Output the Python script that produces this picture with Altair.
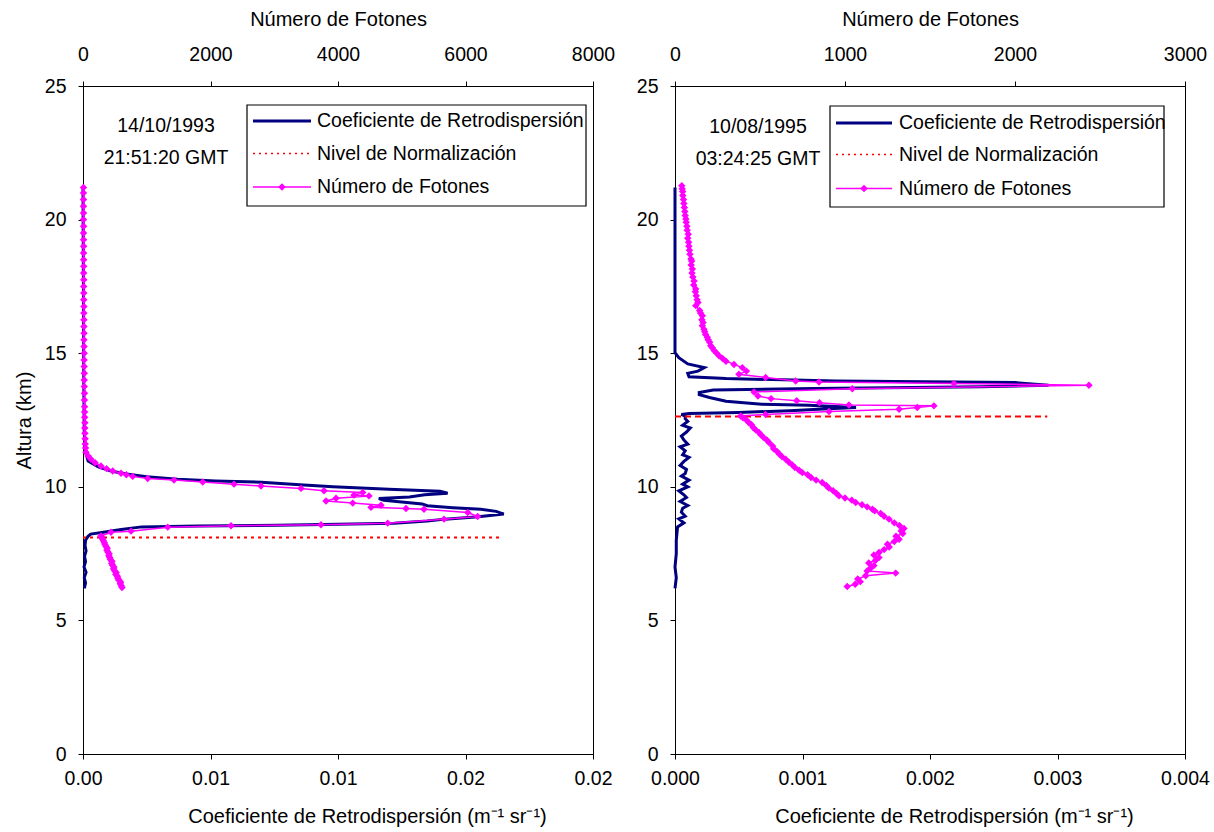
import altair as alt
import pandas as pd

FONT = "Liberation Sans"
NAVY = "#000080"
RED = "#FF0000"
MAG = "#FF00FF"

# ---------------- Panel 1: 14/10/1993 ----------------
L_BS_ALT = [6.2, 6.4, 6.6, 6.8, 7.0, 7.2, 7.4, 7.6, 7.8, 8.0, 8.15, 8.23,
            8.30, 8.40, 8.50, 8.53, 8.56, 8.60, 8.64, 8.72, 8.79, 8.88, 8.98,
            9.08, 9.16, 9.22, 9.29, 9.36, 9.43, 9.50, 9.56, 9.62, 9.70, 9.76,
            9.83, 9.91, 10.0, 10.08, 10.17, 10.22, 10.28, 10.38, 10.48, 10.59,
            10.75, 10.97, 11.3, 12.0, 14.0, 17.0, 21.2]
L_BS_VAL = [0.00005, 0.0001, 0.00005, 0.00012, 0.00004, 0.0001, 0.00006, 0.00012,
            0.00008, 0.0001, 0.0002, 0.0003,
            0.0008, 0.0015, 0.0023, 0.0045, 0.0076, 0.0100, 0.0122, 0.0135, 0.0142,
            0.0155, 0.0165, 0.0162, 0.0156, 0.0145, 0.0135, 0.0133, 0.0125, 0.0118,
            0.0116, 0.0128, 0.0134, 0.0143, 0.0140, 0.0120, 0.0098, 0.0085, 0.0070,
            0.0052, 0.0037, 0.0025, 0.0017, 0.0011, 0.0006, 0.0002, 0.0001, 0.00005,
            0.00003, 0.00002, 0.0]

L_PH_ALT = [6.23, 6.30, 6.37, 6.44, 6.51, 6.58, 6.65, 6.72, 6.79, 6.86, 6.93, 7.00,
            7.07, 7.14, 7.21, 7.28, 7.35, 7.42, 7.49, 7.56, 7.63, 7.70, 7.77, 7.84,
            7.91, 7.98, 8.05, 8.12, 8.16,
            8.30, 8.34, 8.49, 8.54, 8.58, 8.64, 8.79, 8.89, 9.04, 9.16, 9.19, 9.23,
            9.31, 9.39, 9.47, 9.57, 9.66, 9.69, 9.79, 9.85, 9.94, 10.03, 10.10, 10.18,
            10.25, 10.31, 10.39, 10.45, 10.51, 10.59, 10.68, 10.78, 10.90, 11.03,
            11.15, 11.29,
            11.45, 11.6, 11.8, 12.0, 12.2, 12.4, 12.6, 12.8, 13.0, 13.25, 13.5, 13.75,
            14.0, 14.25, 14.5, 14.75, 15.0, 15.25, 15.5, 15.75, 16.0, 16.25, 16.5,
            16.75, 17.0, 17.25, 17.5, 17.75, 18.0, 18.25, 18.5, 18.75, 19.0, 19.25,
            19.5, 19.75, 20.0, 20.25, 20.5, 20.75, 21.0, 21.2]
L_PH_VAL = [612, 600, 585, 590, 560, 548, 540, 515, 520, 495, 480, 485,
            460, 450, 455, 430, 420, 405, 410, 390, 375, 380, 360, 345,
            335, 320, 305, 290, 282,
            439, 753, 1329, 2322, 3733, 4780, 5663, 6191, 6035, 5349, 5067, 4518,
            4675, 4231, 3812, 3969, 4486, 4251, 4388, 3780, 3420, 2792, 2369, 1878,
            1427, 1015, 780, 680, 596, 466, 370, 282, 190, 125,
            80, 47,
            40, 35, 33, 30, 28, 30, 26, 25, 24, 22, 23, 20,
            19, 20, 18, 17, 18, 16, 15, 16, 14, 14, 13,
            14, 12, 12, 11, 12, 10, 11, 10, 9, 10, 9,
            8, 9, 8, 8, 7, 8, 7, 7]

L_NORM_ALT = 8.1
L_NORM_MAX = 0.0164

# ---------------- Panel 2: 10/08/1995 ----------------
R_BS_ALT = [6.2, 6.6, 7.0, 7.5, 8.0, 8.5, 8.65, 8.8, 8.9, 9.05, 9.2, 9.3, 9.45, 9.6,
            9.7, 9.85, 10.0, 10.1, 10.25, 10.4, 10.5, 10.65, 10.8, 10.95, 11.1,
            11.2, 11.35, 11.5, 11.6, 11.75, 11.9, 12.05, 12.2, 12.3, 12.45, 12.55,
            12.65, 12.71, 12.74, 12.78, 12.85, 12.92, 12.97, 13.05, 13.09, 13.2,
            13.34, 13.45, 13.53, 13.62, 13.68, 13.74, 13.80, 13.90, 13.96, 14.05,
            14.12, 14.25, 14.33, 14.46, 14.6, 14.83, 15.02, 17.0, 21.2]
R_BS_VAL = [0.0, 0.00001, 0.0, 0.00001, 0.00001, 0.00002, 0.00007, 0.00003, 0.00008,
            0.00005, 0.00006, 0.0001, 0.00004, 0.00009, 0.00007, 0.00003, 0.0001,
            0.00006, 0.00011, 0.00005, 0.00008, 0.00009, 0.00004, 0.00007, 0.00011,
            0.00006, 0.00008, 0.00004, 0.0001, 0.00007, 0.00005, 0.00009, 0.00012,
            0.00006, 0.0001, 0.00008,
            0.00008, 0.00005, 0.00011, 0.0005, 0.0009, 0.0012, 0.00142,
            0.00105, 0.00068, 0.0004, 0.00027, 0.00019, 0.00019, 0.0003, 0.0011,
            0.0024, 0.00293, 0.00267, 0.00126, 0.0004, 0.00011, 0.0001, 0.00018,
            0.00023, 0.0001, 0.00003, 0.0, 0.0, 0.0]

R_PH_ALT = [6.27, 6.35, 6.45, 6.55, 6.67, 6.77, 6.85, 6.95, 7.05, 7.15, 7.25, 7.35,
            7.45, 7.54, 7.65, 7.75, 7.85, 7.95, 8.04, 8.15, 8.25, 8.35, 8.44, 8.55,
            8.65, 8.79, 8.9, 9.0, 9.1, 9.16, 9.25, 9.33, 9.41, 9.5, 9.58, 9.66, 9.75,
            9.85, 9.95, 10.05, 10.16, 10.25, 10.35, 10.45, 10.53, 10.62, 10.72, 10.82,
            10.92, 11.03, 11.12, 11.22, 11.32, 11.42, 11.52, 11.66, 11.75, 11.85,
            11.95, 12.03, 12.13, 12.22, 12.32, 12.4, 12.5, 12.58, 12.65,
            12.71, 12.82, 12.9, 12.97, 13.03, 13.06, 13.15, 13.22, 13.3, 13.4, 13.55,
            13.67, 13.80, 13.87, 13.92, 13.96, 14.09, 14.21, 14.33, 14.46, 14.58,
            14.7, 14.8, 14.9, 15.0, 15.1, 15.2, 15.28, 15.41, 15.5, 15.6, 15.7, 15.8,
            15.9, 16.03, 16.15, 16.25, 16.4, 16.5, 16.6, 16.78, 16.9, 17.0, 17.15,
            17.3, 17.4, 17.55, 17.7, 17.85, 18.0, 18.15, 18.3, 18.45, 18.53, 18.7,
            18.85, 19.0, 19.15, 19.3, 19.45, 19.6, 19.75, 19.9, 20.02, 20.15, 20.3,
            20.45, 20.6, 20.75, 20.9, 21.05, 21.15, 21.27]
R_PH_VAL = [1013, 1060, 1090, 1075, 1122, 1298, 1130, 1150, 1170, 1140, 1180, 1200,
            1170, 1200, 1230, 1260, 1250, 1290, 1318, 1300, 1340, 1330, 1347, 1320,
            1290, 1259, 1230, 1210, 1175, 1161, 1130, 1100, 1063, 1040, 1000, 965, 950,
            930, 905, 890, 866, 830, 800, 780, 749, 730, 705, 690,
            670, 651, 630, 615, 600, 580, 575, 553, 540, 520,
            505, 494, 475, 460, 450, 435, 420, 400, 386,
            533, 906, 1318, 1425, 1523, 1023, 850, 716, 565, 488, 465,
            1043, 2435, 1641, 847, 710, 533, 376, 420, 396, 347,
            300, 280, 259, 245, 230, 220, 210, 204, 195, 190, 180, 175,
            170, 161, 165, 158, 161, 150, 145, 122, 135, 130, 125,
            120, 122, 110, 112, 105, 100, 102, 95, 98, 94, 88,
            85, 82, 80, 75, 78, 72, 70, 66, 64, 60, 58,
            55, 52, 50, 46, 45, 42, 40]

R_NORM_ALT = 12.63
R_NORM_MAX = 0.00292

# ---------------- Axes / text ----------------
Y_TICKS = [0, 5, 10, 15, 20, 25]
L_X_TICKS = [0, 0.005, 0.01, 0.015, 0.02]
L_X_LABELS = ["0.00", "0.01", "0.01", "0.02", "0.02"]
R_X_TICKS = [0, 0.001, 0.002, 0.003, 0.004]
R_X_LABELS = ["0.000", "0.001", "0.002", "0.003", "0.004"]
L_P_TICKS = [0, 2000, 4000, 6000, 8000]
R_P_TICKS = [0, 1000, 2000, 3000]

LEG_LABELS = ["Coeficiente de Retrodispersión", "Nivel de Normalización", "Número de Fotones"]
LEG_COLORS = [NAVY, RED, MAG]
LEG_WIDTHS = [3, 1.5, 1.5]
LEG_DASH = [[1, 0], [2, 4], [1, 0]]

X_TITLE = "Coeficiente de Retrodispersión (m⁻¹ sr⁻¹)"
P_TITLE = "Número de Fotones"
Y_TITLE = "Altura (km)"

W, H = 510, 668
LABEL_FS = 19.5
TITLE_FS = 20


def panel(bs_alt, bs_val, ph_alt, ph_val, norm_alt, norm_max, xmax, xticks, xlabels,
          pmax, pticks, date, time, ytitle, norm_dash, box, sample, text_x, rows, date_xy,
          xtitle_x):
    df_bs = pd.DataFrame({"alt": bs_alt, "v": bs_val, "i": list(range(len(bs_alt)))})
    df_ph = pd.DataFrame({"alt": ph_alt, "p": ph_val, "i": list(range(len(ph_alt)))})
    df_norm = pd.DataFrame({"alt": [norm_alt, norm_alt], "v": [0, norm_max], "i": [0, 1]})

    yaxis = alt.Axis(values=Y_TICKS, title=ytitle, labelPadding=12, titlePadding=10,
                     tickSize=5)
    Y = alt.Y("alt:Q", scale=alt.Scale(domain=[0, 25], nice=False, zero=False), axis=yaxis)

    expr = "[" + ",".join("'" + s + "'" for s in xlabels) + "][round(datum.value/" + str(xticks[1]) + ")]"
    xaxis = alt.Axis(values=xticks, labelExpr=expr, title=X_TITLE, orient="bottom",
                     tickSize=5, labelPadding=10, titlePadding=19, titleX=xtitle_x,
                     titleAlign="center")
    bs = alt.Chart(df_bs).mark_line(color=NAVY, strokeWidth=3).encode(
        x=alt.X("v:Q", scale=alt.Scale(domain=[0, xmax], nice=False, zero=False), axis=xaxis),
        y=Y, order="i:Q")
    norm = alt.Chart(df_norm).mark_line(color=RED, strokeWidth=2, strokeDash=norm_dash).encode(
        x=alt.X("v:Q", scale=alt.Scale(domain=[0, xmax], nice=False, zero=False), axis=None),
        y=Y, order="i:Q")
    ph = alt.Chart(df_ph).mark_line(
        color=MAG, strokeWidth=1.5,
        point=alt.OverlayMarkDef(shape="diamond", filled=True, size=55, color=MAG, opacity=1)
    ).encode(
        x=alt.X("p:Q", scale=alt.Scale(domain=[0, pmax], nice=False, zero=False),
                axis=alt.Axis(orient="top", values=pticks, format="d", title=P_TITLE,
                              tickSize=5, labelPadding=17, titlePadding=15)),
        y=Y, order="i:Q")

    one = pd.DataFrame({"k": [0]})
    layers = [bs, norm, ph]
    layers.append(alt.Chart(one).mark_rect(fill="white", stroke="black", strokeWidth=1.2).encode(
        x=alt.value(box[0]), x2=alt.value(box[1]), y=alt.value(box[2]), y2=alt.value(box[3])))
    for i, lab in enumerate(LEG_LABELS):
        layers.append(alt.Chart(one).mark_rule(color=LEG_COLORS[i], strokeWidth=LEG_WIDTHS[i],
                                               strokeDash=LEG_DASH[i]).encode(
            x=alt.value(sample[0]), x2=alt.value(sample[1]), y=alt.value(rows[i])))
        layers.append(alt.Chart(one).mark_text(text=lab, align="left", baseline="middle",
                                               font=FONT, fontSize=LABEL_FS, color="black").encode(
            x=alt.value(text_x), y=alt.value(rows[i])))
    layers.append(alt.Chart(one).mark_point(shape="diamond", filled=True, color=MAG, size=55,
                                            opacity=1).encode(
        x=alt.value((sample[0] + sample[1]) / 2), y=alt.value(rows[2])))
    for j, s in enumerate([date, time]):
        layers.append(alt.Chart(one).mark_text(text=s, align="center", baseline="middle",
                                               font=FONT, fontSize=LABEL_FS, color="black").encode(
            x=alt.value(date_xy[0]), y=alt.value(date_xy[1 + j])))

    return alt.layer(*layers).resolve_scale(x="independent").properties(width=W, height=H)


left = panel(L_BS_ALT, L_BS_VAL, L_PH_ALT, L_PH_VAL, L_NORM_ALT, L_NORM_MAX, 0.02,
             L_X_TICKS, L_X_LABELS, 8000, L_P_TICKS, "14/10/1993", "21:51:20 GMT",
             Y_TITLE, [3, 4], [164, 503, 19, 120], [170, 228], 234, [35, 67.5, 101],
             [83, 39.5, 71.5], 284)
right = panel(R_BS_ALT, R_BS_VAL, R_PH_ALT, R_PH_VAL, R_NORM_ALT, R_NORM_MAX, 0.004,
              R_X_TICKS, R_X_LABELS, 3000, R_P_TICKS, "10/08/1995", "03:24:25 GMT",
              None, [6, 4], [155, 489, 20, 121], [161, 217], 224, [37, 68.5, 102.5],
              [83, 40.5, 72.5], 279)

chart = alt.hconcat(left, right, spacing=19).properties(
    padding={"left": 13, "top": 8, "right": 2, "bottom": 1}
).configure(background="white").configure_axis(
    grid=False, domainColor="black", tickColor="black", labelColor="black",
    titleColor="black", labelFont=FONT, titleFont=FONT, labelFontSize=LABEL_FS,
    titleFontSize=TITLE_FS, titleFontWeight="normal", domainWidth=1, tickWidth=1,
    labelFlush=False
).configure_view(stroke="black", strokeWidth=1)

chart.save("out.html", embed_options={"renderer": "svg", "actions": False})
